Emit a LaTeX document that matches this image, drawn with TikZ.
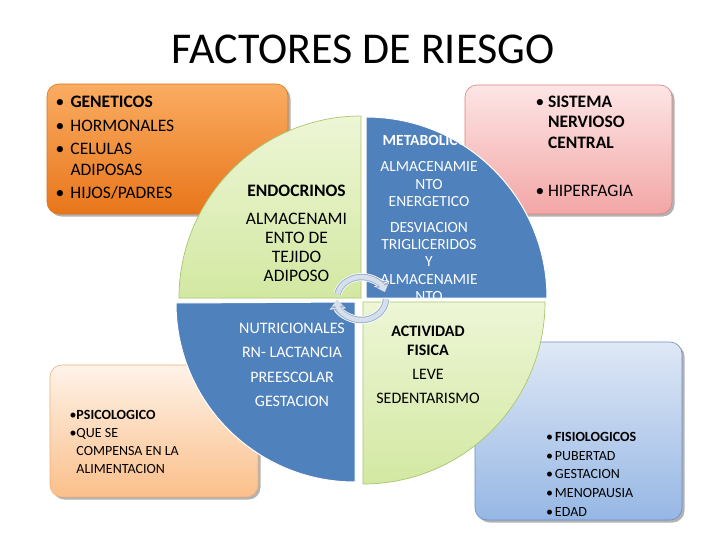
\documentclass[tikz,border=0pt]{standalone}
\usepackage{fontspec}
\setmainfont{Carlito}
\usetikzlibrary{shadows,arrows.meta}
\definecolor{pieblue}{HTML}{4F81BD}
\definecolor{greentop}{HTML}{EDF6D6}
\definecolor{greenbot}{HTML}{D3E8A2}
\definecolor{greenline}{HTML}{A9C66E}
\definecolor{orgtop}{HTML}{FAAC62}
\definecolor{orgbot}{HTML}{E8761A}
\definecolor{orgline}{HTML}{DC7418}
\definecolor{pinktop}{HTML}{FDE5E5}
\definecolor{pinkbot}{HTML}{F3A6A6}
\definecolor{pinkline}{HTML}{D9827F}
\definecolor{peachtop}{HTML}{FEF3E9}
\definecolor{peachbot}{HTML}{FBBF8A}
\definecolor{peachline}{HTML}{EFB07C}
\definecolor{bluetop}{HTML}{DFE8F6}
\definecolor{bluebot}{HTML}{96B7E4}
\definecolor{blueline}{HTML}{6A8EC6}
\definecolor{cyclefill}{HTML}{D6DFEC}
\definecolor{cycleedge}{HTML}{9FB2CE}
\tikzset{
  boxshape/.style={rounded corners=12pt, draw=#1, line width=0.6pt,
    drop shadow={shadow xshift=2.5pt, shadow yshift=-2.5pt, opacity=0.3, fill=black}},
  bluequad/.style={fill=pieblue, draw=white, line width=1pt},
  greenquad/.style={top color=greentop, bottom color=greenbot, draw=greenline, line width=0.7pt},
  txt/.style={inner sep=0pt, outer sep=0pt, anchor=base},
  cyclehalo/.style={draw=white, line width=8pt, -{Triangle[width=16pt,length=9pt]}},
  cycleouter/.style={draw=cycleedge, line width=6.5pt, -{Triangle[width=14pt,length=8pt]}},
  cycleinner/.style={draw=cyclefill, line width=4.5pt, -{Triangle[width=10.5pt,length=6pt]}},
}
\begin{document}
\begin{tikzpicture}[x=1pt,y=-1pt]
\useasboundingbox[fill=white] (0,0) rectangle (728,546);

% title
\node[txt] (title) at (363,63) {\fontsize{44}{50}\selectfont FACTORES DE RIESGO};

% outer boxes
\path[boxshape=orgline, top color=orgtop, bottom color=orgbot] (47,84) rectangle (288,214);
\path[boxshape=pinkline, top color=pinktop, bottom color=pinkbot] (465,85) rectangle (672,214);
\path[boxshape=peachline, top color=peachtop, bottom color=peachbot] (50,365) rectangle (258,497);
\path[boxshape=blueline, top color=bluetop, bottom color=bluebot] (475,342) rectangle (682,520);

% box texts
\node[txt, anchor=base west] (lefttext) at (55.5,107.7) {\fontsize{17.5}{20.7}\selectfont
\begin{tabular}[t]{@{}l@{}l@{}}
\makebox[15pt][l]{\textbullet}&\textbf{GENETICOS}\\[2.6pt]
\textbullet&HORMONALES\\[2.6pt]
\textbullet&CELULAS\\
&ADIPOSAS\\[2.6pt]
\textbullet&HIJOS/PADRES
\end{tabular}};

\node[txt, anchor=base west] (pinktext) at (535.5,107.3) {\fontsize{17.5}{20.5}\selectfont
\begin{tabular}[t]{@{}l@{}l@{}}
\makebox[12.5pt][l]{\textbullet}&\textbf{SISTEMA}\\
&\textbf{NERVIOSO}\\
&\textbf{CENTRAL}\\[27.9pt]
\textbullet&HIPERFAGIA
\end{tabular}};

\node[txt, anchor=base west] (peachtext) at (69.5,419.3) {\fontsize{14}{18}\selectfont
\begin{tabular}[t]{@{}l@{}l@{}}
\makebox[6.5pt][l]{\textbullet}&\textbf{PSICOLOGICO}\\
\textbullet&QUE SE\\
&COMPENSA EN LA\\
&ALIMENTACION
\end{tabular}};

\node[txt, anchor=base west] (bluetext) at (546,441.7) {\fontsize{14}{18.6}\selectfont
\begin{tabular}[t]{@{}l@{}l@{}}
\makebox[9pt][l]{\textbullet}&\textbf{FISIOLOGICOS}\\
\textbullet&PUBERTAD\\
\textbullet&GESTACION\\
\textbullet&MENOPAUSIA\\
\textbullet&EDAD
\end{tabular}};

% pie quadrants
\path[greenquad] (361,298) -- ++(-182,0) arc[start angle=180, end angle=270, radius=182] -- cycle;
\path[bluequad] (366,298) -- ++(0,-181) arc[start angle=270, end angle=360, radius=181] -- cycle;
\path[bluequad] (355,302) -- ++(0,180) arc[start angle=90, end angle=180, radius=179] -- cycle;
\path[greenquad] (363,302) -- ++(182,0) arc[start angle=0, end angle=90, radius=182] -- cycle;

% quadrant texts
\node[txt] (endo) at (296.5,196) {\fontsize{17.5}{19.3}\selectfont
\begin{tabular}[t]{@{}c@{}}
\textbf{ENDOCRINOS}\\[8.7pt]
ALMACENAMI\\ENTO DE\\TEJIDO\\ADIPOSO
\end{tabular}};

\begin{scope}
\clip (366,298) -- ++(0,-181) arc[start angle=270, end angle=360, radius=181] -- cycle;
\node[txt, text=white] (meta) at (429,145) {\fontsize{15.5}{17.4}\selectfont
\begin{tabular}[t]{@{}c@{}}
\textbf{METABOLICOS}\\[9.3pt]
ALMACENAMIE\\NTO\\ENERGETICO\\[8.2pt]
DESVIACION\\TRIGLICERIDOS\\Y\\ALMACENAMIE\\NTO
\end{tabular}};
\end{scope}

\node[txt, text=white] (nutri) at (292,333.3) {\fontsize{16}{24.5}\selectfont
\begin{tabular}[t]{@{}c@{}}
NUTRICIONALES\\RN- LACTANCIA\\PREESCOLAR\\GESTACION
\end{tabular}};

\node[txt] (activ) at (428,336.7) {\fontsize{16}{18.3}\selectfont
\begin{tabular}[t]{@{}c@{}}
\textbf{ACTIVIDAD}\\\textbf{FISICA}\\[6.5pt]
LEVE\\[5.7pt]
SEDENTARISMO
\end{tabular}};

% central cycle arrows (page angles: top arc 168 -> 18 clockwise, bottom arc -2 -> -178)
\coordinate (cc) at (361.5,298.5);
\foreach \st in {cyclehalo,cycleouter,cycleinner}{
  \draw[\st] (cc) ++(-168:24.5 and 21.5) arc[start angle=-168, end angle=-18, x radius=24.5, y radius=21.5];
  \draw[\st] (cc) ++(2:24.5 and 21.5) arc[start angle=2, end angle=176, x radius=24.5, y radius=21.5];
}
\end{tikzpicture}
\end{document}
